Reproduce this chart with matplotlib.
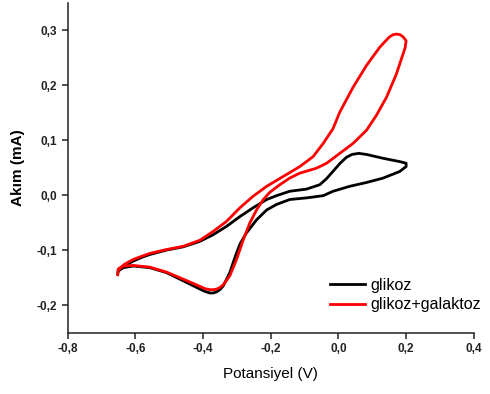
import matplotlib
matplotlib.use("Agg")
import matplotlib.pyplot as plt
from matplotlib.ticker import FuncFormatter

plt.rcParams['font.family'] = ['Liberation Sans', 'DejaVu Sans']

# Cyclic voltammograms: potential (V) vs current (mA)
glikoz_v = [-0.652, -0.650, -0.630, -0.606, -0.580, -0.557, -0.508, -0.458, -0.409, -0.370,
            -0.331, -0.291, -0.252, -0.212, -0.183, -0.144, -0.094, -0.055, -0.035, -0.015,
            0.005, 0.024, 0.040, 0.060, 0.083, 0.132, 0.181, 0.200,
            0.200, 0.181, 0.132, 0.083, 0.033, -0.016, -0.045, -0.094, -0.144, -0.183,
            -0.212, -0.242, -0.272, -0.290, -0.301, -0.321, -0.340, -0.350, -0.360, -0.370,
            -0.380, -0.395, -0.409, -0.458, -0.508, -0.557, -0.606, -0.636, -0.650]
glikoz_i = [-0.143, -0.136, -0.128, -0.120, -0.113, -0.108, -0.100, -0.094, -0.084, -0.072,
            -0.057, -0.039, -0.023, -0.008, -0.001, 0.007, 0.011, 0.019, 0.030, 0.044,
            0.058, 0.069, 0.074, 0.076, 0.074, 0.067, 0.061, 0.058,
            0.052, 0.043, 0.031, 0.023, 0.016, 0.007, -0.001, -0.005, -0.008, -0.017,
            -0.027, -0.045, -0.069, -0.088, -0.105, -0.141, -0.165, -0.172, -0.176, -0.178,
            -0.178, -0.175, -0.171, -0.156, -0.141, -0.132, -0.129, -0.132, -0.138]

galaktoz_v = [-0.652, -0.650, -0.630, -0.606, -0.580, -0.557, -0.508, -0.458, -0.409, -0.370,
              -0.331, -0.291, -0.252, -0.212, -0.163, -0.114, -0.075, -0.045, -0.016, 0.004,
              0.043, 0.083, 0.122, 0.140, 0.151, 0.162, 0.171, 0.182, 0.191, 0.200,
              0.197, 0.191, 0.171, 0.142, 0.112, 0.083, 0.043, 0.004, -0.035, -0.065, -0.114,
              -0.144, -0.173, -0.203, -0.222, -0.242, -0.262, -0.281, -0.301, -0.321, -0.340,
              -0.350, -0.360, -0.370, -0.380, -0.395, -0.409, -0.458, -0.508, -0.557, -0.606,
              -0.636, -0.650]
galaktoz_i = [-0.145, -0.135, -0.125, -0.117, -0.111, -0.106, -0.099, -0.093, -0.082, -0.066,
              -0.048, -0.023, -0.002, 0.016, 0.034, 0.052, 0.070, 0.094, 0.121, 0.151,
              0.196, 0.236, 0.269, 0.281, 0.288, 0.292, 0.293, 0.292, 0.288, 0.281,
              0.268, 0.257, 0.220, 0.178, 0.145, 0.118, 0.094, 0.076, 0.058, 0.049, 0.040,
              0.031, 0.019, 0.005, -0.008, -0.027, -0.051, -0.081, -0.117, -0.147, -0.163,
              -0.168, -0.171, -0.172, -0.172, -0.170, -0.166, -0.153, -0.140, -0.131, -0.128,
              -0.129, -0.135]

x_ticks = [-0.8, -0.6, -0.4, -0.2, 0.0, 0.2, 0.4]
y_ticks = [-0.2, -0.1, 0.0, 0.1, 0.2, 0.3]

fig = plt.figure(figsize=(4.9, 3.94), dpi=100)
ax = fig.add_axes([0.138, 0.156, 0.829, 0.837])

ax.plot(glikoz_v, glikoz_i, color='black', lw=2.0, label='glikoz',
        solid_joinstyle='round')
ax.plot(galaktoz_v, galaktoz_i, color='#ff0000', lw=2.0, label='glikoz+galaktoz',
        solid_joinstyle='round')

ax.set_xlim(-0.8, 0.4)
ax.set_ylim(-0.25, 0.35)
ax.set_xticks(x_ticks)
ax.set_yticks(y_ticks)

comma = FuncFormatter(lambda v, p: f"{v:.1f}".replace('.', ',').replace('-0,0', '0,0'))
ax.xaxis.set_major_formatter(comma)
ax.yaxis.set_major_formatter(comma)

for s in ['top', 'right']:
    ax.spines[s].set_visible(False)
for s in ['left', 'bottom']:
    ax.spines[s].set_linewidth(1.1)
    ax.spines[s].set_color('#222222')

ax.tick_params(direction='out', length=4.5, width=1.1, color='#222222', pad=3)
for lab in ax.get_xticklabels() + ax.get_yticklabels():
    lab.set_fontweight('bold')
    lab.set_fontsize(8.5)
    lab.set_color('#222222')

ax.set_xlabel('Potansiyel (V)', fontsize=11, labelpad=9)
ax.set_ylabel('Akım (mA)', fontsize=11, fontweight='bold', labelpad=8)

ax.legend(loc='upper left', bbox_to_anchor=(0.645, 0.165), frameon=False, fontsize=11.6,
          handlelength=2.2, handletextpad=0.3, labelspacing=0.25, borderpad=0,
          borderaxespad=0)

fig.savefig('out.png', dpi=100)
